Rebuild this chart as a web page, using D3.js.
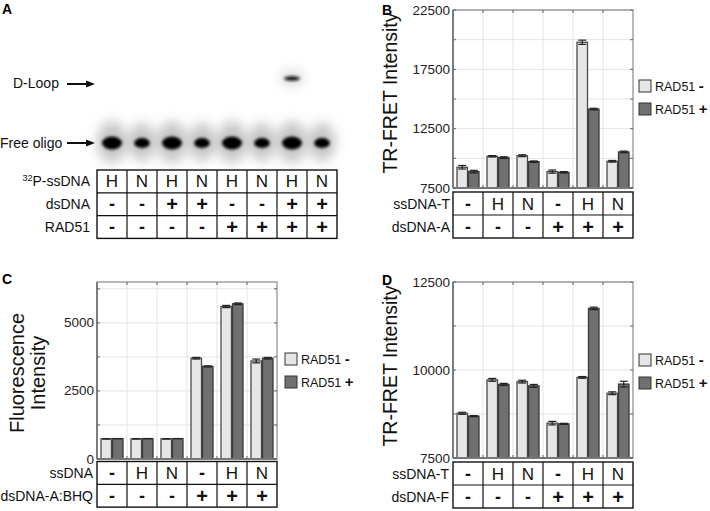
<!DOCTYPE html>
<html><head><meta charset="utf-8">
<script src="https://cdn.jsdelivr.net/npm/d3@7"></script>
<style>
body{margin:0;background:#fff;}
svg{display:block;font-family:"Liberation Sans",Arial,sans-serif;}
</style></head>
<body><svg id="fig" width="710" height="511"></svg>
<script>
// ---------- DATA ----------
// Panel A (gel)
const gelSsDNA = ["H","N","H","N","H","N","H","N"];
const gelDsDNA = ["-","-","+","+","-","-","+","+"];
const gelRAD51 = ["-","-","-","-","+","+","+","+"];
const freeOligoSignal = [1.0,0.65,1.0,0.65,1.0,0.65,1.0,0.65];
const dLoopSignal = [0,0,0,0,0,0,1,0];

// Panel B
const bSsDNA = ["-","H","N","-","H","N"];
const bDsDNA = ["-","-","-","+","+","+"];
const bMinus = [9250,10170,10220,8880,19780,9750];
const bPlus  = [8880,10060,9720,8820,14150,10540];
const bMinusErr = [150,60,80,130,180,70];
const bPlusErr  = [110,70,60,60,70,70];
const bTicks = [7500,10000,12500,15000,17500,20000,22500];
const bTickLabels = [7500,12500,17500,22500];

// Panel C
const cSsDNA = ["-","H","N","-","H","N"];
const cDsDNA = ["-","-","-","+","+","+"];
const cMinus = [740,740,740,3700,5600,3600];
const cPlus  = [750,750,750,3400,5700,3700];
const cMinusErr = [0,0,0,30,40,70];
const cPlusErr  = [0,0,0,20,30,30];
const cTicks = [0,1250,2500,3750,5000,6250];
const cTickLabels = [0,2500,5000];

// Panel D
const dSsDNA = ["-","H","N","-","H","N"];
const dDsDNA = ["-","-","-","+","+","+"];
const dMinus = [8770,9720,9670,8490,9790,9340];
const dPlus  = [8690,9590,9550,8470,11750,9600];
const dMinusErr = [30,40,40,50,25,40];
const dPlusErr  = [15,30,40,15,35,80];
const dTicks = [7500,8750,10000,11250,12500];
const dTickLabels = [7500,10000,12500];

const seriesNames = ["RAD51 -","RAD51 +"];
const seriesColors = ["#e6e6e6","#707070"];
const seriesStroke = ["#4a4a4a","#3a3a3a"];

// ---------- DRAW ----------
const svg = d3.select("#fig");
const defs = svg.append("defs");
defs.append("filter").attr("id","halo").attr("x","-50%").attr("y","-50%").attr("width","200%").attr("height","200%")
  .append("feGaussianBlur").attr("stdDeviation",6);
defs.append("filter").attr("id","band").attr("x","-50%").attr("y","-50%").attr("width","200%").attr("height","200%")
  .append("feGaussianBlur").attr("stdDeviation",1.6);

function panelLetter(t,x,y){
  svg.append("text").attr("x",x).attr("y",y).attr("font-size",14).attr("font-weight","bold").text(t);
}

function drawTable(g, x0, x1, rowsTop, rowH, rows, labels, labelX, firstLabelSup){
  const n = rows[0].length;
  const xs = d3.scaleBand().domain(d3.range(n)).range([x0,x1]);
  const nRows = rows.length;
  const tb = g.append("g");
  tb.append("rect").attr("x",x0).attr("y",rowsTop).attr("width",x1-x0).attr("height",rowH*nRows)
    .attr("fill","none").attr("stroke","#111").attr("stroke-width",1.4);
  for(let r=1;r<nRows;r++){
    tb.append("line").attr("x1",x0).attr("x2",x1).attr("y1",rowsTop+r*rowH).attr("y2",rowsTop+r*rowH)
      .attr("stroke","#111").attr("stroke-width",1.2);
  }
  for(let c=1;c<n;c++){
    tb.append("line").attr("x1",xs(c)).attr("x2",xs(c)).attr("y1",rowsTop).attr("y2",rowsTop+rowH*nRows)
      .attr("stroke","#111").attr("stroke-width",1.2);
  }
  rows.forEach((row,r)=>{
    const cy = rowsTop + r*rowH + rowH/2;
    row.forEach((v,c)=>{
      const t = tb.append("text").attr("x",xs(c)+xs.bandwidth()/2).attr("text-anchor","middle")
        .attr("fill","#111").text(v);
      if(v==="H"||v==="N"){ t.attr("font-size",17).attr("y",cy+6); }
      else if(v==="+"){ t.attr("font-size",20).attr("font-weight","bold").attr("y",cy+7); }
      else { t.attr("font-size",18).attr("font-weight","bold").attr("y",cy+6); }
    });
    const lt = tb.append("text").attr("x",labelX).attr("y",cy+5).attr("text-anchor","end")
      .attr("font-size",14).attr("fill","#111");
    if(r===0 && firstLabelSup){
      lt.append("tspan").attr("font-size",9).attr("dy",-5).text(firstLabelSup);
      lt.append("tspan").attr("dy",5).text(labels[r]);
    } else lt.text(labels[r]);
  });
}

// ---- Panel A: gel ----
(function(){
  const g = svg.append("g");
  panelLetter("A",2,14);
  const lane = d3.scaleBand().domain(d3.range(gelSsDNA.length)).range([97,337]);
  const cx = i => lane(i)+lane.bandwidth()/2;
  const free = freeOligoSignal.map((v,i)=>({v,i}));
  const dl = dLoopSignal.map((v,i)=>({v,i})).filter(d=>d.v>0);
  // halos
  g.append("g").attr("filter","url(#halo)").selectAll("ellipse").data(free).join("ellipse")
    .attr("cx",d=>cx(d.i)).attr("cy",142).attr("rx",d=>11+4*d.v).attr("ry",d=>16+5*d.v)
    .attr("fill","#c6c6c6");
  g.append("g").attr("filter","url(#halo)").selectAll("ellipse").data(dl).join("ellipse")
    .attr("cx",d=>cx(d.i)).attr("cy",78).attr("rx",d=>12*d.v).attr("ry",8).attr("fill","#dcdcdc");
  // bands
  g.append("g").attr("filter","url(#band)").selectAll("ellipse").data(free).join("ellipse")
    .attr("cx",d=>cx(d.i)).attr("cy",143).attr("rx",d=>4+6*d.v).attr("ry",d=>2.5+4*d.v)
    .attr("fill","#050505");
  g.append("g").attr("filter","url(#band)").selectAll("ellipse").data(dl).join("ellipse")
    .attr("cx",d=>cx(d.i)).attr("cy",78.5).attr("rx",d=>8*d.v).attr("ry",2.2).attr("fill","#111");
  // labels + arrows
  g.append("text").attr("x",13).attr("y",88).attr("font-size",14).attr("fill","#111").text("D-Loop");
  g.append("text").attr("x",0).attr("y",148).attr("font-size",14).attr("fill","#111").text("Free oligo");
  [84,143].forEach(y=>{
    g.append("line").attr("x1",67).attr("x2",88).attr("y1",y).attr("y2",y).attr("stroke","#111").attr("stroke-width",2);
    g.append("path").attr("d",`M${86},${y-3.5}L${95},${y}L${86},${y+3.5}Z`).attr("fill","#111");
  });
  drawTable(g,97,337,170,22.8,[gelSsDNA,gelDsDNA,gelRAD51],["P-ssDNA","dsDNA","RAD51"],90,"32");
})();

// ---- Bar panels ----
function barPanel(cfg){
  const g = svg.append("g");
  const n = cfg.minus.length;
  const x0 = d3.scaleBand().domain(d3.range(n)).range([cfg.left,cfg.right]);
  const x1 = d3.scaleBand().domain([0,1]).range([3.5, x0.bandwidth()-3.5]);
  const y = d3.scaleLinear().domain(cfg.domain).range([cfg.bottom,cfg.top]);
  // grid
  g.append("g").selectAll("line").data(cfg.ticks).join("line")
    .attr("x1",cfg.left).attr("x2",cfg.right).attr("y1",d=>y(d)).attr("y2",d=>y(d))
    .attr("stroke","#e4e4e4").attr("stroke-width",1);
  g.append("g").selectAll("line").data(d3.range(1,n)).join("line")
    .attr("x1",d=>x0(d)).attr("x2",d=>x0(d)).attr("y1",cfg.top).attr("y2",cfg.bottom)
    .attr("stroke","#e4e4e4").attr("stroke-width",1);
  // bars
  const series = [cfg.minus,cfg.plus];
  const errs = [cfg.minusErr,cfg.plusErr];
  series.forEach((vals,s)=>{
    g.append("g").selectAll("rect").data(vals).join("rect")
      .attr("x",(d,i)=>x0(i)+x1(s)+0.5).attr("width",x1.bandwidth()-1)
      .attr("y",d=>y(d)).attr("height",d=>y(cfg.domain[0])-y(d))
      .attr("fill",seriesColors[s]).attr("stroke",seriesStroke[s]).attr("stroke-width",1.3);
    const eg = g.append("g").attr("stroke","#222").attr("stroke-width",1.2);
    vals.forEach((d,i)=>{
      const e = errs[s][i];
      const cx = x0(i)+x1(s)+x1.bandwidth()/2;
      eg.append("line").attr("x1",cx).attr("x2",cx).attr("y1",y(d+e)).attr("y2",y(d-e));
      eg.append("line").attr("x1",cx-4).attr("x2",cx+4).attr("y1",y(d+e)).attr("y2",y(d+e));
      eg.append("line").attr("x1",cx-4).attr("x2",cx+4).attr("y1",y(d-e)).attr("y2",y(d-e));
    });
  });
  // frame
  g.append("rect").attr("x",cfg.left).attr("y",cfg.top).attr("width",cfg.right-cfg.left).attr("height",cfg.bottom-cfg.top)
    .attr("fill","none").attr("stroke","#8a8a8a").attr("stroke-width",1.2);
  g.append("line").attr("x1",cfg.left).attr("x2",cfg.left).attr("y1",cfg.top).attr("y2",cfg.bottom)
    .attr("stroke","#777").attr("stroke-width",1.8);
  g.append("line").attr("x1",cfg.left).attr("x2",cfg.right).attr("y1",cfg.bottom).attr("y2",cfg.bottom)
    .attr("stroke","#777").attr("stroke-width",1.8);
  // inner ticks left & right, top
  const tg = g.append("g").attr("stroke","#666").attr("stroke-width",1);
  cfg.ticks.forEach(t=>{
    tg.append("line").attr("x1",cfg.left).attr("x2",cfg.left+3).attr("y1",y(t)).attr("y2",y(t));
    tg.append("line").attr("x1",cfg.right).attr("x2",cfg.right-3).attr("y1",y(t)).attr("y2",y(t));
  });
  d3.range(1,n).forEach(i=>{
    tg.append("line").attr("x1",x0(i)).attr("x2",x0(i)).attr("y1",cfg.top).attr("y2",cfg.top+3);
    tg.append("line").attr("x1",x0(i)).attr("x2",x0(i)).attr("y1",cfg.bottom).attr("y2",cfg.bottom-3);
  });
  // tick labels
  g.append("g").selectAll("text").data(cfg.tickLabels).join("text")
    .attr("x",cfg.left-3).attr("y",d=>y(d)+4.5).attr("text-anchor","end")
    .attr("font-size",13.5).attr("fill","#222").text(d=>d);
  // y label
  cfg.ylabel.forEach((line,k)=>{
    g.append("text").attr("transform",`translate(${cfg.ylabelX[k]},${cfg.ylabelY}) rotate(-90)`)
      .attr("text-anchor","middle").attr("font-size",cfg.ylabelSize).attr("fill","#111").text(line);
  });
  // legend
  const lg = g.append("g");
  seriesNames.forEach((nm,s)=>{
    const ly = cfg.legendY + s*23;
    lg.append("rect").attr("x",cfg.legendX).attr("y",ly).attr("width",12).attr("height",12)
      .attr("fill",seriesColors[s]).attr("stroke","#333").attr("stroke-width",1);
    const t = lg.append("text").attr("x",cfg.legendX+16).attr("y",ly+11).attr("font-size",12.5).attr("fill","#111");
    const parts = nm.split(" ");
    t.append("tspan").text(parts[0]+" ");
    t.append("tspan").attr("font-weight","bold").attr("font-size",15).text(parts[1]);
  });
  drawTable(g,cfg.left,cfg.right,cfg.tableTop,cfg.rowH,[cfg.row1,cfg.row2],cfg.rowLabels,cfg.rowLabelX,null);
}

panelLetter("B",382,15);
barPanel({left:453,right:633,top:10,bottom:188,domain:[7500,22500],ticks:bTicks,tickLabels:bTickLabels,
  minus:bMinus,plus:bPlus,minusErr:bMinusErr,plusErr:bPlusErr,
  ylabel:["TR-FRET Intensity"],ylabelX:[397],ylabelY:93,ylabelSize:19.5,
  legendX:639,legendY:80,tableTop:192,rowH:23,row1:bSsDNA,row2:bDsDNA,
  rowLabels:["ssDNA-T","dsDNA-A"],rowLabelX:450});

panelLetter("C",2,284);
barPanel({left:97,right:277,top:282,bottom:459,domain:[0,6500],ticks:cTicks,tickLabels:cTickLabels,
  minus:cMinus,plus:cPlus,minusErr:cMinusErr,plusErr:cPlusErr,
  ylabel:["Fluorescence","Intensity"],ylabelX:[24,45],ylabelY:373,ylabelSize:20,
  legendX:285,legendY:353,tableTop:461.5,rowH:22.8,row1:cSsDNA,row2:cDsDNA,
  rowLabels:["ssDNA","dsDNA-A:BHQ"],rowLabelX:93});

panelLetter("D",382,285);
barPanel({left:453,right:633,top:282,bottom:458,domain:[7500,12500],ticks:dTicks,tickLabels:dTickLabels,
  minus:dMinus,plus:dPlus,minusErr:dMinusErr,plusErr:dPlusErr,
  ylabel:["TR-FRET Intensity"],ylabelX:[397],ylabelY:366,ylabelSize:19.5,
  legendX:639,legendY:354,tableTop:462,rowH:23,row1:dSsDNA,row2:dDsDNA,
  rowLabels:["ssDNA-T","dsDNA-F"],rowLabelX:449});
</script></body></html>
